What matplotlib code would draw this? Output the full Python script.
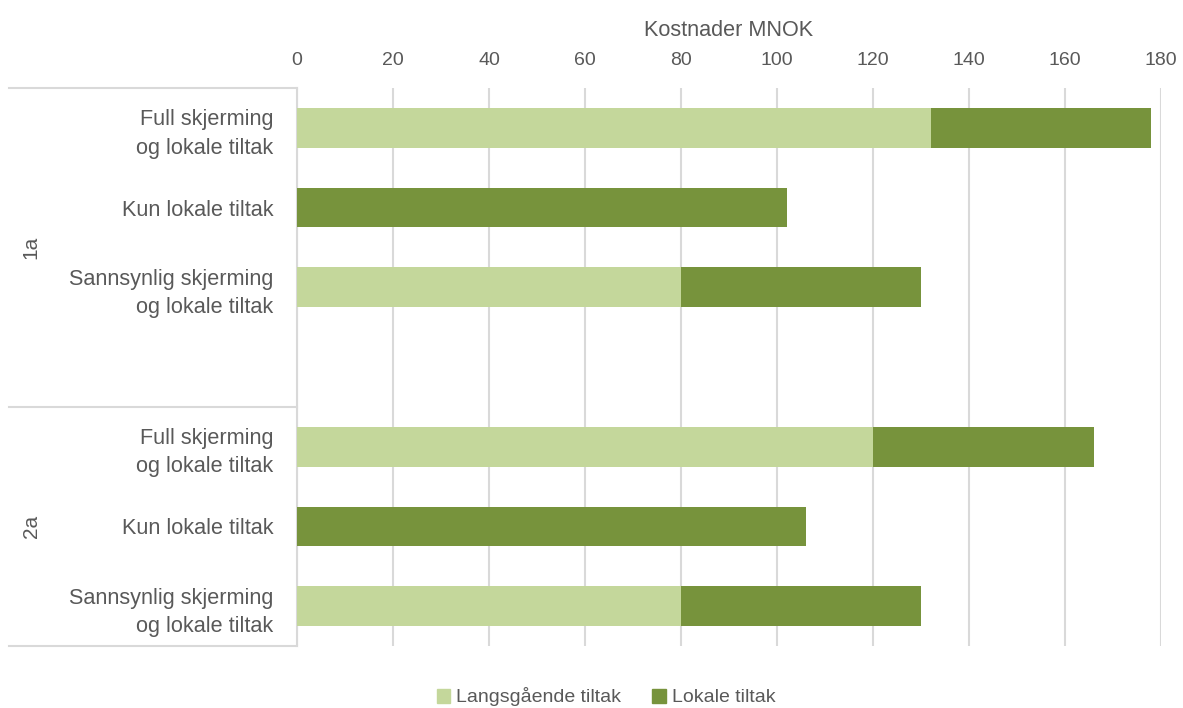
import matplotlib
matplotlib.use("Agg")
import matplotlib.pyplot as plt
import matplotlib.transforms as mtransforms

# Data
groups = ["1a", "2a"]
categories = [
    "Full skjerming\nog lokale tiltak",
    "Kun lokale tiltak",
    "Sannsynlig skjerming\nog lokale tiltak",
]
langsgaende = {"1a": [132, 0, 80], "2a": [120, 0, 80]}
lokale = {"1a": [46, 102, 50], "2a": [46, 106, 50]}
xticks = [0, 20, 40, 60, 80, 100, 120, 140, 160, 180]
series_names = ["Langsgående tiltak", "Lokale tiltak"]

plt.rcParams["font.family"] = ["Liberation Sans", "DejaVu Sans"]

text_color = "#595959"
grid_color = "#D9D9D9"
light = "#C4D79B"
dark = "#77933C"
fs_small = 14
fs_big = 15.6

fig = plt.figure(figsize=(11.83, 7.08), dpi=100)
ax = fig.add_axes([297 / 1183, 1 - 646 / 708, 864 / 1183, (646 - 88) / 708])

# slot layout: group 1a occupies 4 slots (last empty), group 2a occupies 3
positions = {"1a": [0, 1, 2], "2a": [4, 5, 6]}
ylabels_pos, ylabels = [], []
for g in groups:
    pos = positions[g]
    ax.barh(pos, langsgaende[g], height=0.5, color=light, zorder=3)
    ax.barh(pos, lokale[g], left=langsgaende[g], height=0.5, color=dark, zorder=3)
    ylabels_pos += pos
    ylabels += categories

ax.set_ylim(6.5, -0.5)
ax.set_xlim(0, 180)
ax.set_yticks(ylabels_pos)
ax.set_yticklabels(ylabels, fontsize=fs_big, color=text_color, linespacing=1.45)
ax.tick_params(axis="y", length=0, pad=17)

ax.xaxis.tick_top()
ax.xaxis.set_label_position("top")
ax.set_xticks(xticks)
ax.set_xticklabels([str(t) for t in xticks], fontsize=fs_small, color=text_color)
ax.tick_params(axis="x", length=0, pad=14)
ax.set_xlabel("Kostnader MNOK", fontsize=fs_big, color=text_color, labelpad=11)

ax.grid(axis="x", color=grid_color, linewidth=1.5, zorder=0)
for s in ["top", "right", "bottom"]:
    ax.spines[s].set_visible(False)
ax.spines["left"].set_color(grid_color)
ax.spines["left"].set_linewidth(1.5)

# group boundary lines of the category axis
trans = mtransforms.blended_transform_factory(ax.transAxes, ax.transData)
x0 = (9 - 297) / 864
for yb in [-0.5, 3.5, 6.5]:
    ax.plot([x0, 0], [yb, yb], color=grid_color, linewidth=1.5,
            transform=trans, clip_on=False)

# group labels
gx = (31 - 297) / 864
ax.text(gx, 1.5, "1a", rotation=90, ha="center", va="center", fontsize=15,
        color=text_color, transform=trans)
ax.text(gx, 5.0, "2a", rotation=90, ha="center", va="center", fontsize=15,
        color=text_color, transform=trans)

# legend
handles = [plt.Rectangle((0, 0), 1, 1, color=light), plt.Rectangle((0, 0), 1, 1, color=dark)]
leg = fig.legend(handles, series_names, loc="center", bbox_to_anchor=(606 / 1183, 1 - 697 / 708),
                 ncol=2, frameon=False, fontsize=fs_small, handlelength=0.7, handleheight=0.7,
                 handletextpad=0.3, columnspacing=1.6)
for t in leg.get_texts():
    t.set_color(text_color)

fig.savefig("out.png", dpi=100)
